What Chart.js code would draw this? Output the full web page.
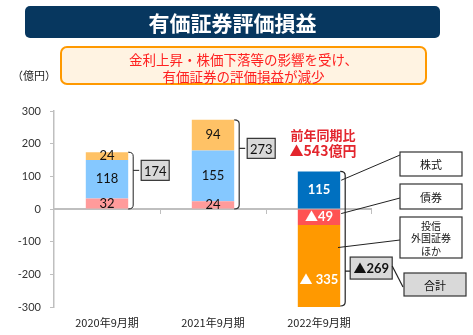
<!DOCTYPE html>
<html><head><meta charset="utf-8">
<script src="https://cdn.jsdelivr.net/npm/chart.js@4.4.1/dist/chart.umd.min.js"></script>
<style>
html,body{margin:0;padding:0;background:#fff;}
#wrap{position:relative;width:473px;height:335px;overflow:hidden;font-family:"Noto Sans CJK JP",sans-serif;}
canvas{position:absolute;left:0;top:0;}
#title{position:absolute;left:25px;top:6px;width:415px;height:32px;background:#07375F;border-radius:5px;color:#fff;font-weight:bold;font-size:21px;line-height:32px;text-align:center;}
#sub{position:absolute;left:60px;top:46px;width:367px;height:39px;box-sizing:border-box;border:2px solid #FF9900;border-radius:7px;background:#FFF3E2;color:#FF2020;font-size:13.5px;line-height:17px;text-align:center;padding-top:3px;}
#unit{position:absolute;left:12px;top:67px;font-size:11px;color:#222;}
</style></head>
<body>
<div id="wrap">
<canvas id="c" width="473" height="335"></canvas>
<div id="title">有価証券評価損益</div>
<div id="sub">金利上昇・株価下落等の影響を受け、<br>有価証券の評価損益が減少</div>
<div id="unit">（億円）</div>
</div>
<script>
const categories = ['2020年9月期', '2021年9月期', '2022年9月期'];
const segment1 = [32, 24, 115];
const segment2 = [118, 155, -49];
const segment3 = [24, 94, -335];
const totals = [174, 273, -269];
const yMin = -300, yMax = 300, yStep = 100;
const legendLabels = [['株式'], ['債券'], ['投信', '外国証券', 'ほか']];
const changeLabel = ['前年同期比', '▲543億円'];
const totalLabel = '合計';

const colors1 = ['#FF9B9B', '#FF9B9B', '#0070C0'];
const colors2 = ['#85C8FF', '#85C8FF', '#FF5353'];
const colors3 = ['#FFC266', '#FFC266', '#FF9900'];
const labelColors = ['#111', '#111', '#fff'];

const NUMFONT = 'Lato, "Noto Sans CJK JP", sans-serif';
const JPFONT = '"Noto Sans CJK JP", sans-serif';
const fmt = v => v < 0 ? '▲' + (Math.abs(v) >= 100 ? ' ' : '') + Math.abs(v) : String(v);

function box(ctx, l, t, w, h, fill) {
  ctx.fillStyle = fill;
  ctx.fillRect(l, t, w, h);
  ctx.strokeStyle = '#333';
  ctx.lineWidth = 1.2;
  ctx.strokeRect(l, t, w, h);
}
function bracket(ctx, xr, top, bot, mid, tickEnd) {
  const xv = xr + 5;
  ctx.beginPath();
  ctx.moveTo(xr, top);
  ctx.quadraticCurveTo(xv, top, xv, top + 4);
  ctx.lineTo(xv, bot - 4);
  ctx.quadraticCurveTo(xv, bot, xr, bot);
  ctx.moveTo(xv, mid);
  ctx.lineTo(tickEnd, mid);
  ctx.stroke();
}

const deco = {
  id: 'deco',
  beforeDatasetsDraw(chart) {
    const {ctx, chartArea: a, scales: {x, y}} = chart;
    const y0 = y.getPixelForValue(0);
    ctx.save();
    ctx.strokeStyle = '#BFBFBF';
    ctx.lineWidth = 2;
    ctx.beginPath();
    ctx.moveTo(a.left, y0); ctx.lineTo(a.right, y0);
    ctx.stroke();
    ctx.lineWidth = 1;
    ctx.beginPath();
    for (let i = 0; i < categories.length; i++) {
      const px = i < categories.length - 1 ? (x.getPixelForValue(i) + x.getPixelForValue(i + 1)) / 2 : a.right - 1;
      ctx.moveTo(Math.round(px) + 0.5, y0);
      ctx.lineTo(Math.round(px) + 0.5, y0 + 5);
    }
    ctx.stroke();
    ctx.restore();
  },
  afterDatasetsDraw(chart) {
    const {ctx, chartArea: a, scales: {x, y}} = chart;
    const y0 = y.getPixelForValue(0);
    ctx.save();
    const sets = [segment1, segment2, segment3];
    ctx.textAlign = 'center';
    ctx.textBaseline = 'middle';
    sets.forEach((arr, di) => {
      const meta = chart.getDatasetMeta(di);
      meta.data.forEach((el, i) => {
        const p = el.getProps(['x', 'y', 'base'], true);
        const cy = (p.y + p.base) / 2;
        ctx.fillStyle = labelColors[i];
        ctx.font = (i === 2 ? 'bold ' : '') + '13px ' + NUMFONT;
        ctx.fillText(fmt(arr[i]), p.x, cy);
      });
    });
    ctx.strokeStyle = '#222';
    ctx.lineWidth = 1;
    const meta0 = chart.getDatasetMeta(0);
    for (let i = 0; i < 2; i++) {
      const el = meta0.data[i];
      const xr = el.x + el.width / 2;
      const top = y.getPixelForValue(totals[i]);
      const mid = y.getPixelForValue(totals[i] * 0.68);
      bracket(ctx, xr, top, y0, mid, xr + 11);
      const l = xr + 13, w = 28, h = 20;
      box(ctx, l, mid - h / 2, w, h, '#D9D9D9');
      ctx.fillStyle = '#111';
      ctx.font = '13px ' + NUMFONT;
      ctx.textAlign = 'center';
      ctx.fillText(fmt(totals[i]), l + w / 2, mid + 1);
    }
    const el2 = meta0.data[2];
    const xr2 = el2.x + el2.width / 2;
    const top2 = y.getPixelForValue(segment1[2]);
    const bot2 = a.bottom - 1;
    const mid2 = y.getPixelForValue(-190);
    ctx.strokeStyle = '#222';
    bracket(ctx, xr2, top2, bot2, mid2, xr2 + 10);
    const tl = xr2 + 10, tw = 42, th = 22;
    box(ctx, tl, mid2 - th / 2 - 3, tw, th, '#D9D9D9');
    ctx.fillStyle = '#111';
    ctx.font = 'bold 13px ' + NUMFONT;
    ctx.fillText(fmt(totals[2]).replace(' ', ''), tl + tw / 2, mid2 - 2);
    const gl = a.right + 32, gt = 273, gw = 62, gh = 23;
    ctx.strokeStyle = '#222';
    ctx.beginPath();
    ctx.moveTo(tl + tw, mid2 - 5);
    ctx.lineTo(gl - 1, gt + 14);
    ctx.stroke();
    box(ctx, gl, gt, gw, gh, '#D9D9D9');
    ctx.fillStyle = '#111';
    ctx.font = '11px ' + JPFONT;
    ctx.fillText(totalLabel, gl + gw / 2, gt + gh / 2 + 1);

    const bx = a.right + 28;
    const legendBoxes = [
      {t: 152, h: 24, from: [xr2 + 1, y.getPixelForValue(88)], to: 155},
      {t: 184, h: 25, from: [xr2 + 1, y.getPixelForValue(-14)], to: 198},
      {t: 217, h: 41, from: [el2.x + 19, y.getPixelForValue(-118)], to: 240}
    ];
    legendBoxes.forEach((b, k) => {
      ctx.strokeStyle = '#222';
      ctx.lineWidth = 1;
      ctx.beginPath();
      ctx.moveTo(b.from[0], b.from[1]);
      ctx.lineTo(bx, b.to);
      ctx.stroke();
      box(ctx, bx, b.t, 62, b.h, '#FFFFFF');
      ctx.fillStyle = '#111';
      const lines = legendLabels[k];
      const lh = lines.length > 1 ? 12.5 : 0;
      ctx.font = (lines.length > 1 ? '10px ' : '11px ') + JPFONT;
      lines.forEach((s, j) => {
        ctx.fillText(s, bx + 31, b.t + b.h / 2 + 1 + (j - (lines.length - 1) / 2) * lh);
      });
    });

    ctx.fillStyle = '#E3252D';
    ctx.font = 'bold 13px ' + JPFONT;
    ctx.fillText(changeLabel[0], el2.x + 4, 135);
    ctx.font = 'bold 14px ' + JPFONT;
    ctx.fillText(changeLabel[1], el2.x + 4, 151);
    ctx.restore();
  }
};

new Chart(document.getElementById('c'), {
  type: 'bar',
  data: {
    labels: categories,
    datasets: [
      {data: segment1, backgroundColor: colors1},
      {data: segment2, backgroundColor: colors2},
      {data: segment3, backgroundColor: colors3}
    ]
  },
  options: {
    responsive: false,
    animation: false,
    devicePixelRatio: 1,
    clip: 0,
    layout: {padding: {top: 111, right: 101, left: 0, bottom: 0}},
    categoryPercentage: 1,
    barPercentage: 0.4,
    plugins: {legend: {display: false}, tooltip: {enabled: false}},
    scales: {
      x: {
        stacked: true,
        grid: {display: false, drawTicks: false},
        border: {display: false},
        ticks: {padding: 9, color: '#222', font: {family: JPFONT, size: 11}},
        afterFit: s => { s.height = 28; }
      },
      y: {
        stacked: true,
        min: yMin, max: yMax,
        ticks: {stepSize: yStep, padding: 9, color: '#333', font: {family: NUMFONT, size: 11}},
        grid: {display: true, drawOnChartArea: false, drawTicks: true, tickLength: 4, color: '#BFBFBF'},
        border: {display: true, color: '#BFBFBF', width: 1.5},
        afterFit: s => { s.width = 54; }
      }
    }
  },
  plugins: [deco]
});
</script>
</body></html>
